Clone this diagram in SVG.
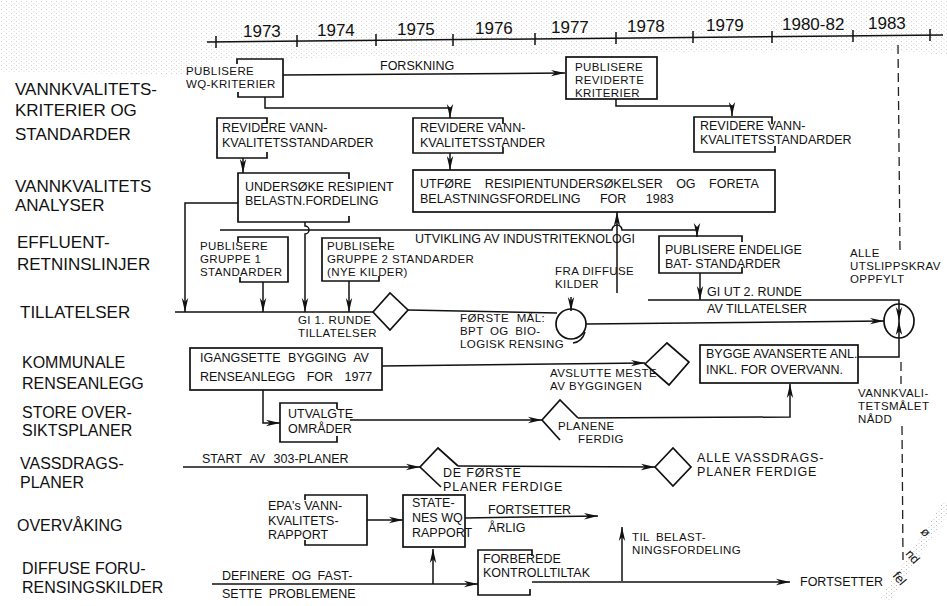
<svg xmlns="http://www.w3.org/2000/svg" width="947" height="606" viewBox="0 0 947 606">
<style>
.t{font-family:"Liberation Sans",Arial,sans-serif;font-size:12.5px;fill:#111}
.s{font-size:11.5px;letter-spacing:0.4px}
.w{letter-spacing:0.8px}
.l{font-size:17px;letter-spacing:0}
.l2{font-size:16px;letter-spacing:0}
.ln{stroke:#111;stroke-width:1.5;fill:none}
.bx{stroke:#111;stroke-width:1.7;fill:none}
.ds{stroke:#222;stroke-width:1.3;fill:none;stroke-dasharray:9 5}
</style>
<defs>
<marker id="a" viewBox="0 0 14 8" refX="14" refY="4" markerWidth="14" markerHeight="8" orient="auto" markerUnits="userSpaceOnUse"><path d="M0,0.8 L14,4 L0,7.2 L4,4 Z" fill="#111"/></marker>
<pattern id="sp" width="5" height="4" patternUnits="userSpaceOnUse"><rect x="1" y="1" width="1" height="1" fill="#bbb"/><rect x="3.5" y="3" width="1" height="1" fill="#d0d0d0"/></pattern>
</defs>
<rect width="947" height="606" fill="#fff"/>
<path d="M0,0 H947 V55 L880,50 L700,52 L500,55 L300,58 L210,60 L200,75 L0,72 Z" fill="url(#sp)" opacity="0.7"/>

<g id="timeline">
<line class="ln" x1="207" y1="42" x2="943" y2="35"/>
<path class="ln" d="M216,36 V48 M297,35 V47 M376,34 V46 M453,34 V46 M535,33 V45 M616,32 V44 M693,31 V43 M772,31 V43 M853,30 V42 M930,29 V41"/>
<text class="t l" x="243" y="37">1973</text>
<text class="t l" x="317" y="36">1974</text>
<text class="t l" x="397" y="35">1975</text>
<text class="t l" x="475" y="34">1976</text>
<text class="t l" x="551" y="33">1977</text>
<text class="t l" x="627" y="32">1978</text>
<text class="t l" x="706" y="31">1979</text>
<text class="t l" x="782" y="30">1980-82</text>
<text class="t l" x="868" y="29">1983</text>
<path class="ds" d="M898,45 L900,250"/>
<path class="ds" d="M901,362 L901,384"/>
<path class="ds" d="M902,426 L903,560"/>
</g>

<g id="row-labels">
<text class="t l" x="15" y="95">VANNKVALITETS-</text>
<text class="t l" x="15" y="116">KRITERIER OG</text>
<text class="t l" x="15" y="140">STANDARDER</text>
<text class="t l" x="15" y="192">VANNKVALITETS</text>
<text class="t l" x="15" y="211">ANALYSER</text>
<text class="t l" x="17" y="248">EFFLUENT-</text>
<text class="t l" x="17" y="270">RETNINSLINJER</text>
<text class="t l" x="20" y="318">TILLATELSER</text>
<text class="t l2" x="22" y="368">KOMMUNALE</text>
<text class="t l2" x="22" y="389">RENSEANLEGG</text>
<text class="t l2" x="22" y="418">STORE OVER-</text>
<text class="t l2" x="22" y="436">SIKTSPLANER</text>
<text class="t l2" x="20" y="469">VASSDRAGS-</text>
<text class="t l2" x="20" y="488">PLANER</text>
<text class="t l2" x="17" y="531">OVERVÅKING</text>
<text class="t l2" x="22" y="574">DIFFUSE FORU-</text>
<text class="t l2" x="22" y="593">RENSINGSKILDER</text>
</g>

<g id="n-publisere-wq">
<path class="bx" d="M237,64 V59 H283 V97 H238 V92"/>
<text class="t s" x="186" y="75">PUBLISERE</text>
<text class="t s" x="186" y="88">WQ-KRITERIER</text>
</g>
<g id="n-publisere-reviderte">
<rect class="bx" x="566" y="57" width="91" height="42"/>
<text class="t s" x="575" y="71">PUBLISERE</text>
<text class="t s" x="575" y="84">REVIDERTE</text>
<text class="t s" x="575" y="97">KRITERIER</text>
</g>
<g id="n-revidere-1">
<path class="bx" d="M267,124 V118 H217 V158 H267 V152"/>
<text class="t" x="222" y="132">REVIDERE VANN-</text>
<text class="t" x="222" y="147">KVALITETSSTANDARDER</text>
</g>
<g id="n-revidere-2">
<path class="bx" d="M503,124 V118 H413 V153 H503 V147"/>
<text class="t" x="420" y="132">REVIDERE VANN-</text>
<text class="t" x="420" y="147">KVALITETSSTANDER</text>
</g>
<g id="n-revidere-3">
<path class="bx" d="M772,124 V117 H694 V152 H775 V146"/>
<text class="t" x="700" y="130">REVIDERE VANN-</text>
<text class="t" x="700" y="144">KVALITETSSTANDARDER</text>
</g>
<g id="n-undersoke">
<path class="bx" d="M349,179 V173 H238 V222 H349 V216"/>
<text class="t" x="245" y="191">UNDERSØKE RESIPIENT</text>
<text class="t" x="245" y="205">BELASTN.FORDELING</text>
</g>
<g id="n-utfore">
<rect class="bx" x="413" y="170" width="362" height="42"/>
<text class="t" x="420" y="188" word-spacing="10">UTFØRE RESIPIENTUNDERSØKELSER OG FORETA</text>
<text class="t" x="420" y="203" word-spacing="16">BELASTNINGSFORDELING FOR 1983</text>
</g>
<g id="n-gruppe1">
<path class="bx" d="M238,242 V237 H288 V282 H240 V277"/>
<text class="t s" x="200" y="250">PUBLISERE</text>
<text class="t s" x="200" y="263">GRUPPE 1</text>
<text class="t s" x="200" y="276">STANDARDER</text>
</g>
<g id="n-gruppe2">
<path class="bx" d="M380,243 V238 H322 V281 H379 V276"/>
<text class="t s" x="327" y="250">PUBLISERE</text>
<text class="t s" x="327" y="263">GRUPPE 2 STANDARDER</text>
<text class="t s" x="327" y="276">(NYE KILDER)</text>
</g>
<g id="n-bat">
<path class="bx" d="M742,242 V236 H659 V273 H742 V267"/>
<text class="t" x="665" y="254">PUBLISERE ENDELIGE</text>
<text class="t" x="665" y="268">BAT- STANDARDER</text>
</g>
<g id="n-runde1">
<polygon class="bx" points="373,312 390,293 408,310 390,330"/>
<text class="t s" x="298" y="324">GI 1. RUNDE</text>
<text class="t s" x="298" y="337">TILLATELSER</text>
</g>
<g id="n-forste-mal">
<circle class="bx" cx="571" cy="324" r="15"/>
<text class="t s" x="460" y="322" word-spacing="4">FØRSTE MÅL:</text>
<text class="t s" x="460" y="335" word-spacing="3">BPT OG BIO-</text>
<text class="t s" x="460" y="348">LOGISK RENSING</text>
</g>
<g id="n-alle-krav">
<ellipse class="bx" cx="899" cy="321" rx="15" ry="17"/>
<text class="t s" x="850" y="257">ALLE</text>
<text class="t s" x="850" y="270">UTSLIPPSKRAV</text>
<text class="t s" x="850" y="283">OPPFYLT</text>
</g>
<g id="n-igangsette">
<rect class="bx" x="190" y="348" width="192" height="42"/>
<text class="t" x="200" y="362" word-spacing="4">IGANGSETTE BYGGING AV</text>
<text class="t" x="200" y="381" word-spacing="8">RENSEANLEGG FOR 1977</text>
</g>
<g id="n-avslutte">
<polygon class="bx" points="645,364 667,343 689,362 669,385"/>
<text class="t s" x="550" y="377">AVSLUTTE MESTE</text>
<text class="t s" x="550" y="390">AV BYGGINGEN</text>
</g>
<g id="n-bygge">
<rect class="bx" x="700" y="345" width="158" height="38"/>
<text class="t" x="706" y="358">BYGGE AVANSERTE ANL.</text>
<text class="t" x="706" y="374">INKL. FOR OVERVANN.</text>
</g>
<g id="n-maal-naadd">
<text class="t s" x="858" y="397">VANNKVALI-</text>
<text class="t s" x="858" y="410">TETSMÅLET</text>
<text class="t s" x="858" y="423">NÅDD</text>
</g>
<g id="n-utvalgte">
<path class="bx" d="M337,409 V403 H280 V442 H337 V436"/>
<text class="t" x="288" y="418">UTVALGTE</text>
<text class="t" x="288" y="433">OMRÅDER</text>
</g>
<g id="n-planene">
<path class="bx" d="M560,440 L542,420 L560,400 L578,418"/>
<text class="t s" x="558" y="430">PLANENE</text>
<text class="t s" x="578" y="443">FERDIG</text>
</g>
<g id="n-de-forste">
<path class="bx" d="M441,487 L420,467 L438,448 L458,466"/>
<text class="t w" x="443" y="477">DE FØRSTE</text>
<text class="t w" x="443" y="491">PLANER FERDIGE</text>
</g>
<g id="n-alle-vassdrag">
<polygon class="bx" points="655,467 673,448 691,467 673,486"/>
<text class="t w" x="697" y="462">ALLE VASSDRAGS-</text>
<text class="t w" x="697" y="476">PLANER FERDIGE</text>
</g>
<g id="n-epa">
<path class="bx" d="M305,500 V495 H367 V545 H305 V540"/>
<text class="t" x="268" y="510">EPA's VANN-</text>
<text class="t" x="268" y="525">KVALITETS-</text>
<text class="t" x="268" y="539">RAPPORT</text>
</g>
<g id="n-statenes">
<rect class="bx" x="403" y="495" width="62" height="52"/>
<text class="t" x="412" y="507">STATE-</text>
<text class="t" x="412" y="522">NES WQ</text>
<text class="t" x="412" y="537">RAPPORT</text>
</g>
<g id="n-forberede">
<path class="bx" d="M532,556 V550 H478 V595 H530 V589"/>
<text class="t" x="483" y="563">FORBEREDE</text>
<text class="t" x="483" y="577">KONTROLLTILTAK</text>
</g>

<g id="connectors">
<path class="ln" d="M283,75 L565,73" marker-end="url(#a)"/>
<text class="t" x="380" y="70">FORSKNING</text>
<path class="ln" d="M265,97 V108 H450 V118" marker-end="url(#a)"/>
<path class="ln" d="M616,99 V106 H732 V116" marker-end="url(#a)"/>
<path class="ln" d="M243,158 V173" marker-end="url(#a)"/>
<path class="ln" d="M450,153 V170" marker-end="url(#a)"/>
<path class="ln" d="M238,203 H185 V312" marker-end="url(#a)"/>
<path class="ln" d="M305,222 V226 A4,4 0 0 1 305,234 V312" marker-end="url(#a)"/>
<path class="ln" d="M220,230 H612 A5,5 0 0 1 622,230 H697 V237" marker-end="url(#a)"/>
<text class="t" x="415" y="243">UTVIKLING AV INDUSTRITEKNOLOGI</text>
<path class="ln" d="M617,293 V212" marker-end="url(#a)"/>
<path class="ln" d="M263,282 V312" marker-end="url(#a)"/>
<path class="ln" d="M349,281 V312" marker-end="url(#a)"/>
<path class="ln" d="M175,312 H373"/>
<path class="ln" d="M408,310 L557,313"/>
<path class="ln" d="M571,297 V311" marker-end="url(#a)"/>
<text class="t s" x="555" y="275">FRA DIFFUSE</text>
<text class="t s" x="555" y="288">KILDER</text>
<path class="ln" d="M573,343 Q582,342 585,332"/>
<path class="ln" d="M586,324 L884,321" marker-end="url(#a)"/>
<path class="ln" d="M648,300 H899 V321" marker-end="url(#a)"/>
<text class="t" x="707" y="296">GI UT 2. RUNDE</text>
<text class="t" x="707" y="313">AV TILLATELSER</text>
<path class="ln" d="M700,273 V300" marker-end="url(#a)"/>
<path class="ln" d="M858,357 H899 V321" marker-end="url(#a)"/>
<path class="ln" d="M382,366 L645,363" marker-end="url(#a)"/>
<path class="ln" d="M263,390 V423 H280" marker-end="url(#a)"/>
<path class="ln" d="M350,420 L542,420" marker-end="url(#a)"/>
<path class="ln" d="M578,418 L790,417 V384" marker-end="url(#a)"/>
<path class="ln" d="M183,467 L420,467" marker-end="url(#a)"/>
<text class="t" x="202" y="463" word-spacing="5">START AV 303-PLANER</text>
<path class="ln" d="M458,466 L655,467" marker-end="url(#a)"/>
<path class="ln" d="M367,520 L403,520" marker-end="url(#a)"/>
<path class="ln" d="M465,518 L598,516" marker-end="url(#a)"/>
<text class="t" x="488" y="514">FORTSETTER</text>
<text class="t" x="488" y="532">ÅRLIG</text>
<path class="ln" d="M212,584 L478,584" marker-end="url(#a)"/>
<text class="t" x="222" y="580" word-spacing="3">DEFINERE OG FAST-</text>
<text class="t" x="222" y="598" word-spacing="3">SETTE PROBLEMENE</text>
<path class="ln" d="M433,584 V549" marker-end="url(#a)"/>
<path class="ln" d="M532,582 L790,582" marker-end="url(#a)"/>
<text class="t" x="800" y="586">FORTSETTER</text>
<path class="ln" d="M622,581 V527" marker-end="url(#a)"/>
<text class="t s" x="632" y="541" word-spacing="3">TIL BELAST-</text>
<text class="t s" x="632" y="554">NINGSFORDELING</text>
</g>

<g id="stamp">
<path d="M885,600 L947,505" stroke="url(#sp)" stroke-width="10" fill="none"/>
<text class="t" x="920" y="532" transform="rotate(50 920 532)" fill="#555">ø</text>
<text class="t" x="905" y="554" transform="rotate(50 905 554)" fill="#555">nd</text>
<text class="t" x="892" y="576" transform="rotate(50 892 576)" fill="#555">fel</text>
</g>
</svg>
